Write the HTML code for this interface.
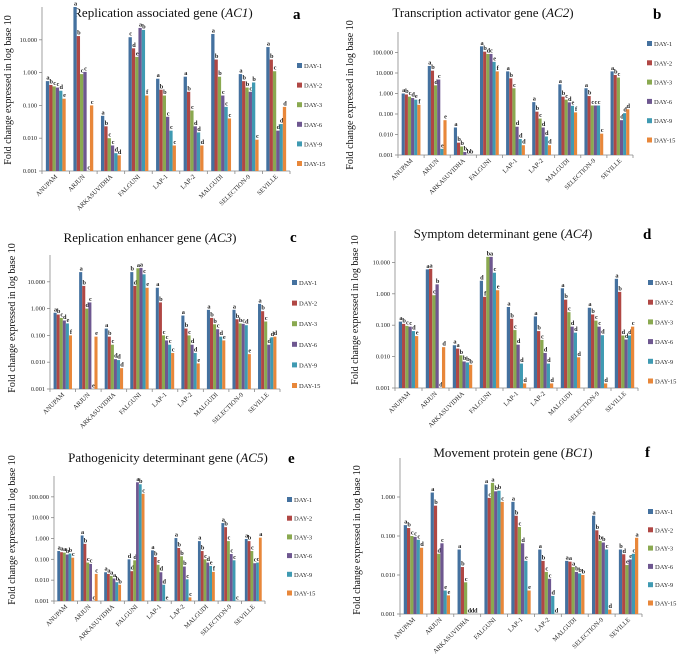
<!DOCTYPE html>
<html><head><meta charset="utf-8"><style>
body{margin:0;background:#fff}
svg{display:block}
text{font-family:"Liberation Serif",serif}
</style></head><body>
<svg id="fig" width="678" height="659" viewBox="0 0 678 659"></svg>
<script>
const categories=["ANUPAM","ARJUN","ARKASUVIDHA","FALGUNI","LAP-1","LAP-2","MALGUDI","SELECTION-9","SEVILLE"];
const seriesNames=["DAY-1","DAY-2","DAY-3","DAY-6","DAY-9","DAY-15"];
const tickLabels5=["100.000","10.000","1.000","0.100","0.010","0.001"];

const dataA=[[0.55,0.42,0.38,0.35,0.28,0.16],[100,13,0.9,1.05,0.001,0.1],[0.048,0.023,0.010,0.006,0.0035,0.003],[12,5.5,3,23,20,0.2],[0.65,0.3,0.2,0.045,0.017,0.006],[0.75,0.26,0.07,0.023,0.015,0.006],[15,2.5,0.75,0.2,0.09,0.04],[0.9,0.55,0.35,0.26,0.5,0.009],[6,2.5,1.1,0.017,0.027,0.09]];
const lettersA=["abccde","abcccc","abccdd","cdeabf","abbccc","abcddd","abbccc","abbcbc","abcddd"];
const dataB=[[1.0,0.9,0.7,0.6,0.5,0.28],[22,13,2.5,4.8,0.002,0.05],[0.022,0.004,0.0026,0.0014,0.001,0.001],[200,110,85,85,35,12],[12,5.5,1.8,0.024,0.006,0.003],[0.38,0.13,0.06,0.022,0.008,0.003],[2.8,0.7,0.5,0.37,0.25,0.12],[1.8,0.75,0.26,0.26,0.26,0.011],[12,8,6,0.05,0.11,0.17]];
const lettersB=["abcdef","abdcee","abbbbb","abdcef","abcddd","abcddd","abcdef","abcccc","abcddd"];
const dataC=[[0.7,0.6,0.45,0.36,0.28,0.1],[23,7,1.0,1.7,0.001,0.09],[0.18,0.09,0.045,0.013,0.012,0.006],[23,7,32,33,19,6],[6,1.7,0.1,0.065,0.045,0.022],[0.55,0.18,0.1,0.045,0.022,0.009],[0.9,0.45,0.26,0.17,0.09,0.065],[0.9,0.4,0.28,0.27,0.24,0.02],[1.5,0.8,0.33,0.045,0.085,0.09]];
const lettersC=["abcdef","abdcee","abcddd","bdaace","abcccc","abcdde","abbcde","abbcde","abcddd"];
const dataD=[[0.13,0.11,0.095,0.09,0.065,0.045],[6,6.2,0.9,2,0.001,0.02],[0.023,0.018,0.011,0.007,0.0065,0.0055],[2.6,0.8,15,15,4.7,1.3],[0.38,0.16,0.07,0.024,0.006,0.0014],[0.19,0.065,0.034,0.013,0.006,0.0014],[1.5,0.65,0.26,0.09,0.058,0.0095],[0.36,0.22,0.14,0.09,0.048,0.0014],[3,1.15,0.047,0.035,0.047,0.09]];
const lettersD=["abccde","aacbdd","aabbbb","dfbace","abcddd","abcddd","abcddd","abccdd","abdddc"];
const dataE=[[0.25,0.22,0.21,0.17,0.19,0.12],[1.4,0.55,0.07,0.06,0.001,0.02],[0.024,0.02,0.016,0.012,0.008,0.006],[0.1,0.027,0.09,500,400,140],[0.27,0.13,0.055,0.024,0.006,0.001],[1.05,0.35,0.14,0.045,0.011,0.0015],[0.75,0.25,0.1,0.07,0.048,0.025],[5.5,3.5,0.75,0.18,0.09,0.001],[0.95,0.75,0.25,0.065,0.07,1.1]];
const lettersE=["aaabbc","abcccc","aaaabb","dddabc","abcdde","abbbcc","abcdef","abcccc","abccca"];
const dataF=[[0.19,0.16,0.1,0.095,0.08,0.05],[1.3,0.6,0.035,0.065,0.004,0.003],[0.045,0.016,0.0065,0.001,0.001,0.001],[2.1,0.95,2.3,1.4,1.45,0.75],[0.75,0.33,0.17,0.065,0.023,0.004],[0.045,0.023,0.012,0.008,0.0029,0.001],[0.023,0.022,0.016,0.012,0.011,0.01],[0.33,0.14,0.075,0.068,0.045,0.0013],[0.045,0.034,0.018,0.025,0.035,0.09]];
const lettersF=["abcccd","abdcee","abcddd","acabbc","abcdee","abccdd","aaabbb","abbbcd","bdeeca"];

const colors=["#44719f","#b04744","#8aa950","#6e5790","#3f9ab2","#e8873a"];
const NS="http://www.w3.org/2000/svg";
const svg=document.getElementById("fig");
function mk(tag,attrs,parent,txt){const e=document.createElementNS(NS,tag);for(const k in attrs)e.setAttribute(k,attrs[k]);if(txt!==undefined)e.textContent=txt;(parent||svg).appendChild(e);return e;}

const panels=[
 {id:"a",title:"Replication associated gene ",gene:"AC1",data:dataA,letters:lettersA,x0:42,x1:290,yTop:7,yBase:171,decMin:-3,decMax:2,ticksShown:[1,0,-1,-2,-3],titleX:163,titleY:17,lx:297,ly:66,ls:19.6,tagX:293,tagY:19,ytX:8,ytY:90},
 {id:"b",title:"Transcription activator gene ",gene:"AC2",data:dataB,letters:lettersB,x0:398,x1:633,yTop:32,yBase:155,decMin:-3,decMax:3,ticksShown:[2,1,0,-1,-2,-3],titleX:483,titleY:17,lx:647,ly:44,ls:19.3,tagX:653,tagY:19,ytX:350,ytY:95},
 {id:"c",title:"Replication enhancer gene ",gene:"AC3",data:dataC,letters:lettersC,x0:50,x1:280,yTop:255,yBase:389,decMin:-3,decMax:2,ticksShown:[1,0,-1,-2,-3],titleX:150,titleY:242,lx:292,ly:283,ls:20.6,tagX:290,tagY:242,ytX:12,ytY:318},
 {id:"d",title:"Symptom determinant gene ",gene:"AC4",data:dataD,letters:lettersD,x0:395,x1:638,yTop:231,yBase:388,decMin:-3,decMax:2,ticksShown:[1,0,-1,-2,-3],titleX:503,titleY:238,lx:648,ly:283,ls:19.7,tagX:643,tagY:239,ytX:355,ytY:310},
 {id:"e",title:"Pathogenicity determinant gene ",gene:"AC5",data:dataE,letters:lettersE,x0:54,x1:265,yTop:476,yBase:601,decMin:-3,decMax:3,ticksShown:[2,1,0,-1,-2,-3],titleX:168,titleY:462,lx:287,ly:500,ls:18.7,tagX:288,tagY:463,ytX:12,ytY:530},
 {id:"f",title:"Movement protein gene ",gene:"BC1",data:dataF,letters:lettersF,x0:400,x1:642,yTop:458,yBase:614,decMin:-3,decMax:1,ticksShown:[0,-1,-2,-3],titleX:513,titleY:457,lx:648,ly:512,ls:18.3,tagX:645,tagY:457,ytX:357,ytY:540}
];

panels.forEach(p=>{
 const g=mk("g",{});
 
 
 const yScale=v=>{const l=Math.log10(Math.max(v,Math.pow(10,p.decMin)));return p.yBase-(l-p.decMin)/(p.decMax-p.decMin)*(p.yBase-p.yTop);};
 const catW=(p.x1-p.x0)/categories.length;
 const bw=catW*0.72/6;
 const t=mk("text",{x:p.titleX,y:p.titleY,"text-anchor":"middle","font-size":"13",fill:"#111"},g);
 
 
 t.appendChild(document.createTextNode(p.title+"("));
 const ts=document.createElementNS(NS,"tspan");ts.setAttribute("font-style","italic");ts.textContent=p.gene;t.appendChild(ts);
 t.appendChild(document.createTextNode(")"));
 const tag=mk("text",{x:p.tagX,y:p.tagY,"font-size":"15","font-weight":"bold",fill:"#000"},g,p.id);
 
 
 const yt=mk("text",{x:p.ytX,y:p.ytY,"text-anchor":"middle","font-size":"10",fill:"#111",transform:`rotate(-90 ${p.ytX} ${p.ytY})`,dy:"3"},g,"Fold change expressed in log base 10");
 
 
 const ya=mk("line",{x1:p.x0,y1:p.yTop,x2:p.x0,y2:p.yBase,stroke:"#888","stroke-width":"0.8"},g);
 
 
 const xa=mk("line",{x1:p.x0,y1:p.yBase,x2:p.x1,y2:p.yBase,stroke:"#888","stroke-width":"0.8"},g);
 
 
 p.ticksShown.forEach(d=>{
  const y=yScale(Math.pow(10,d));
  mk("line",{x1:p.x0-3,y1:y,x2:p.x0,y2:y,stroke:"#888","stroke-width":"0.8"},g);
  const tl=mk("text",{x:p.x0-5,y:y+2,"text-anchor":"end","font-size":"6.3",fill:"#222"},g,tickLabels5[2-d]);
  
  
 });
 for(let i=0;i<=categories.length;i++){const x=p.x0+i*catW;mk("line",{x1:x,y1:p.yBase,x2:x,y2:p.yBase+3,stroke:"#888","stroke-width":"0.8"},g);}
 categories.forEach((c,ci)=>{
  const gx=p.x0+ci*catW+catW*0.14;
  p.data[ci].forEach((v,si)=>{
   const x=gx+si*bw, y=yScale(v);
   const r=mk("rect",{x:x,y:y,width:bw,height:Math.max(0,p.yBase-y),fill:colors[si]},g);
   
   
   const L=mk("text",{x:x+bw/2+0.5,y:y-1.5,"text-anchor":"middle","font-size":"6.3","font-weight":"bold",fill:"#222"},g,p.letters[ci][si]);
   
   
  });
  const cx=p.x0+(ci+0.5)*catW+2, cy=p.yBase+6;
  const xl=mk("text",{x:cx,y:cy,"text-anchor":"end","font-size":"6.5",fill:"#222",transform:`rotate(-45 ${cx} ${cy})`},g,c);
  
  
 });
 seriesNames.forEach((s,si)=>{
  const y=p.ly+si*p.ls;
  const lg=mk("g",{},g);
  
  
  mk("rect",{x:p.lx,y:y-3,width:5,height:5,fill:colors[si]},lg);
  mk("text",{x:p.lx+7,y:y+2,"font-size":"6.5",fill:"#222"},lg,s);
 });
});
</script>
</body></html>
